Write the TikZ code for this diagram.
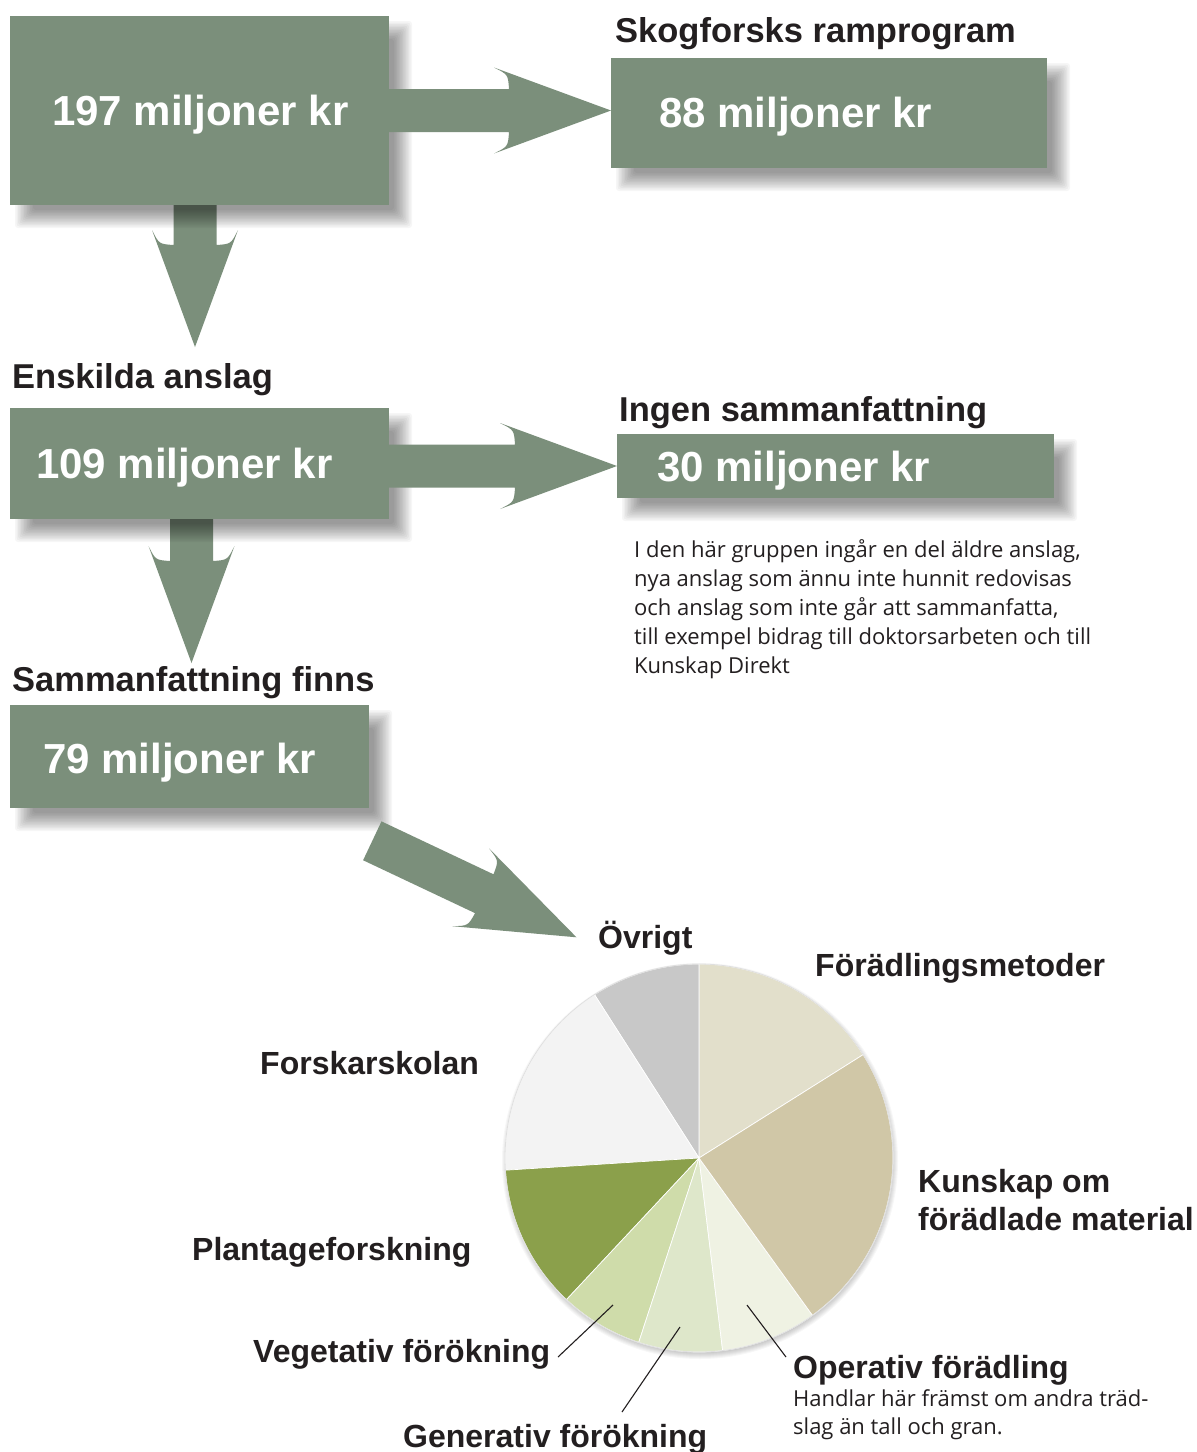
\documentclass[tikz,border=0pt]{standalone}
\usepackage{fontspec}
\setmainfont{Liberation Sans}
\newfontfamily\lightfont{Open Sans}
\usetikzlibrary{calc}
\pgfdeclarelayer{bg}
\pgfsetlayers{bg,main}
\definecolor{boxgreen}{HTML}{7B8F7B}
\definecolor{ink}{HTML}{231F20}
\definecolor{cFm}{HTML}{E2DFCB}
\definecolor{cKu}{HTML}{D0C7A7}
\definecolor{cOp}{HTML}{EFF2E3}
\definecolor{cGe}{HTML}{DEE7CA}
\definecolor{cVe}{HTML}{CFDCAA}
\definecolor{cPl}{HTML}{8BA04B}
\definecolor{cFo}{HTML}{F3F3F3}
\definecolor{cOv}{HTML}{C8C8C8}
\newcommand\fatarrow[2]{%
  \pgfpointdiff{\pgfpointanchor{#1}{center}}{\pgfpointanchor{#2}{center}}%
  \pgfgetlastxy{\fadx}{\fady}%
  \pgfmathsetmacro\faang{atan2(\fady,\fadx)}%
  \pgfmathsetmacro\falen{veclen(\fadx,\fady)}%
  \begin{scope}[shift={(#1)}, rotate=\faang]
    \fill[boxgreen] (0,-21.5) -- (\falen-102,-21.5)
      .. controls (\falen-103,-36) .. (\falen-117,-43) -- (\falen,0)
      -- (\falen-117,43) .. controls (\falen-103,36) .. (\falen-102,21.5)
      -- (0,21.5) -- cycle;
  \end{scope}}
\newcommand\softshadow[1]{%
  \foreach \e in {9,7.5,6,4.5,3,1.5,0,-1.5,-3,-4.5,-6,-7.5,-9} {
    \fill[black, opacity=0.035, rounded corners=3pt]
      ($(#1.north west)+(14-\e,14-\e)$) rectangle ($(#1.south east)+(14+\e,14+\e)$);
  }}
\tikzset{
  gbox/.style={fill=boxgreen, inner sep=0pt, outer sep=0pt},
  boxtext/.style={anchor=base west, inner sep=0pt, text=white, font=\bfseries\fontsize{42}{48}\selectfont},
  title/.style={anchor=base west, inner sep=0pt, text=ink, font=\bfseries\fontsize{34.5}{40}\selectfont},
  pielabel/.style={anchor=base west, inner sep=0pt, text=ink, font=\bfseries\fontsize{32}{38}\selectfont},
  smalltext/.style={anchor=base west, inner sep=0pt, text=ink, align=left, font=\lightfont\fontsize{22}{29}\selectfont},
  pointer/.style={draw=ink, line width=1.1pt},
  slice/.style={draw=white, line width=0.7pt}
}
\begin{document}
\begin{tikzpicture}[x=1pt,y=-1pt]
\useasboundingbox (0,0) rectangle (1197,1452);

% boxes
\node[gbox, minimum width=379pt, minimum height=189pt] (b1) at (199.5,110.5) {};
\node[gbox, minimum width=436pt, minimum height=110pt] (b2) at (829,113) {};
\node[gbox, minimum width=379pt, minimum height=111pt] (b3) at (199.5,463.5) {};
\node[gbox, minimum width=437pt, minimum height=64pt] (b4) at (835.5,466) {};
\node[gbox, minimum width=359pt, minimum height=103pt] (b5) at (189.5,756.5) {};

\node[boxtext] (t1) at (52,125) {197 miljoner kr};
\node[boxtext] (t2) at (659,127) {88 miljoner kr};
\node[boxtext] (t3) at (36,478) {109 miljoner kr};
\node[boxtext] (t4) at (657,481) {30 miljoner kr};
\node[boxtext] (t5) at (43,773) {79 miljoner kr};

% titles
\node[title] (h2) at (615,42) {Skogforsks ramprogram};
\node[title] (h3) at (12,388) {Enskilda anslag};
\node[title] (h4) at (619,421) {Ingen sammanfattning};
\node[title] (h5) at (12,691) {Sammanfattning finns};

\node[smalltext] (note) at (634,673) {I den här gruppen ingår en del äldre anslag,\\nya anslag som ännu inte hunnit redovisas\\och anslag som inte går att sammanfatta,\\till exempel bidrag till doktorsarbeten och till\\Kunskap Direkt};

% arrow end points
\coordinate (r1s) at (b1.east);
\coordinate (r1e) at (b2.west |- b1.east);
\coordinate (r2s) at (b3.east |- b4.west);
\coordinate (r2e) at (b4.west);
\coordinate (d1s) at (195,205);
\coordinate (d1e) at (195,347);
\coordinate (d2s) at (191.5,519);
\coordinate (d2e) at (191.5,663);
\coordinate (g1s) at (372.3,840.8);
\coordinate (g1e) at (576.5,937.3);
\coordinate (pc) at (699,1158);

\begin{pgfonlayer}{bg}
  \fill[white] (0,0) rectangle (1197,1452);
  \fatarrow{d1s}{d1e}
  \fatarrow{d2s}{d2e}
  \softshadow{b1}
  \softshadow{b2}
  \softshadow{b3}
  \softshadow{b4}
  \softshadow{b5}
  \foreach \e in {4,3,2,1,0,-1,-2,-3,-4}
    \fill[black, opacity=0.03] ($(pc)+(1,3)$) circle[radius=194+\e];
\end{pgfonlayer}
\fatarrow{r1s}{r1e}
\fatarrow{r2s}{r2e}
\fatarrow{g1s}{g1e}

% pie
\begin{scope}[shift={(pc)}, yscale=-1]
  \foreach \a/\b/\c in {32.2/90/cFm, 90/122.6/cOv, 122.6/183.6/cFo, 183.6/226.9/cPl,
      226.9/251.9/cVe, 251.9/277/cGe, 277/305.8/cOp, 305.8/392.2/cKu}
    \path[slice, fill=\c] (0,0) -- (\a:194) arc[start angle=\a, end angle=\b, radius=194] -- cycle;
  \draw[gray!25, line width=0.8pt] (0,0) circle[radius=194];
\end{scope}

% pie labels
\node[pielabel] (lOv) at (598,948) {Övrigt};
\node[pielabel] (lFm) at (815,976) {Förädlingsmetoder};
\node[pielabel] (lFo) at (260,1074) {Forskarskolan};
\node[pielabel] (lKu) at (918,1192) {Kunskap om};
\node[pielabel] (lKu2) at (918,1230) {förädlade material};
\node[pielabel] (lPl) at (192,1260) {Plantageforskning};
\node[pielabel] (lVe) at (253,1362) {Vegetativ förökning};
\node[pielabel] (lGe) at (403,1447) {Generativ förökning};
\node[pielabel] (lOp) at (793,1378) {Operativ förädling};
\node[smalltext, font=\lightfont\fontsize{22}{28}\selectfont] (lOpn) at (793,1434) {Handlar här främst om andra träd-\\slag än tall och gran.};

% pointers
\coordinate (pVe1) at (558,1357); \coordinate (pVe2) at (613,1305);
\coordinate (pGe1) at (622,1412); \coordinate (pGe2) at (680,1327);
\coordinate (pOp1) at (786,1357); \coordinate (pOp2) at (747,1305);
\draw[pointer] (pVe1) -- (pVe2);
\draw[pointer] (pGe1) -- (pGe2);
\draw[pointer] (pOp1) -- (pOp2);
\end{tikzpicture}
\end{document}
